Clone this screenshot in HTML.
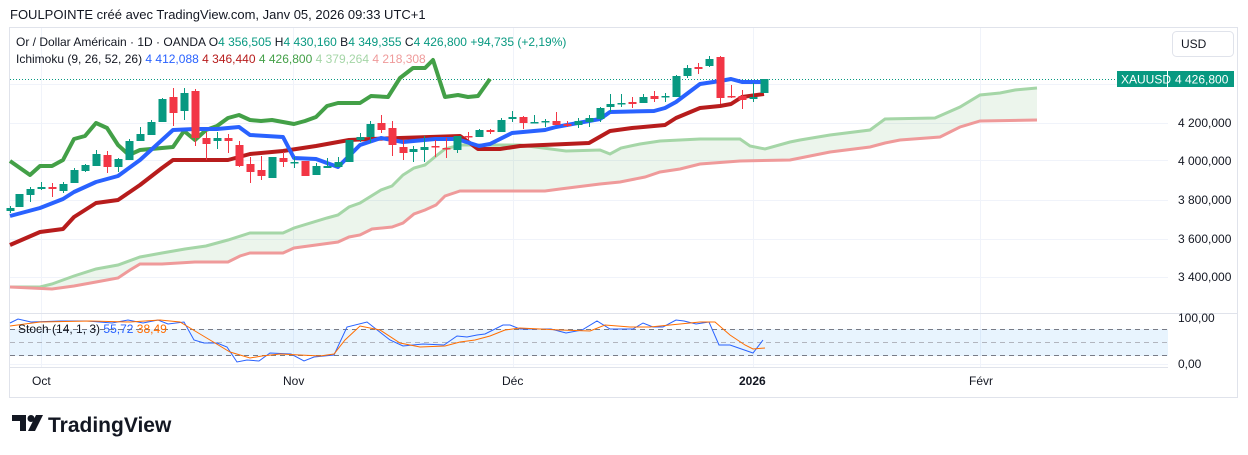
<!DOCTYPE html><html><head><meta charset="utf-8"><style>
body{margin:0;width:1248px;height:455px;background:#fff;overflow:hidden;font-family:"Liberation Sans",sans-serif;}
</style></head><body>
<svg id="s" width="1248" height="455" xmlns="http://www.w3.org/2000/svg" style="position:absolute;left:0;top:0">
<text x="10" y="19" font-size="13" fill="#131722">FOULPOINTE créé avec TradingView.com, Janv 05, 2026 09:33 UTC+1</text>
<rect x="9.5" y="27.5" width="1228" height="370" fill="none" stroke="#e0e3eb"/>
<g id="grid" stroke="#f0f3fa" stroke-width="1"></g>
<g id="g"></g>
<text x="16" y="46" font-size="12" fill="#131722">Or / Dollar Américain · 1D · OANDA <tspan>O</tspan><tspan fill="#089981">4 356,505</tspan> H<tspan fill="#089981">4 430,160</tspan> B<tspan fill="#089981">4 349,355</tspan> C<tspan fill="#089981">4 426,800</tspan> <tspan fill="#089981">+94,735 (+2,19%)</tspan></text>
<text x="16" y="63" font-size="12" fill="#131722">Ichimoku (9, 26, 52, 26) <tspan fill="#2962ff">4 412,088</tspan> <tspan fill="#b71c1c">4 346,440</tspan> <tspan fill="#43a047">4 426,800</tspan> <tspan fill="#a5d6a7">4 379,264</tspan> <tspan fill="#ef9a9a">4 218,308</tspan></text>
<rect x="1172.5" y="31.5" width="61" height="25" rx="4" fill="#fff" stroke="#e0e3eb"/>
<text x="1181" y="48" font-size="12" fill="#131722">USD</text>
<line x1="1237.5" y1="27" x2="1237.5" y2="397" stroke="#e0e3eb"/>
<line x1="10" y1="313.5" x2="1237" y2="313.5" stroke="#e0e3eb"/>
<line x1="10" y1="367.5" x2="1168" y2="367.5" stroke="#e0e3eb"/>
<g font-size="12" fill="#131722">
<text x="1178" y="127">4 200,000</text><text x="1178" y="165">4 000,000</text><text x="1178" y="204">3 800,000</text><text x="1178" y="243">3 600,000</text><text x="1178" y="281">3 400,000</text>
<text x="1178" y="322">100,00</text><text x="1178" y="368">0,00</text>
<text x="32" y="385">Oct</text><text x="283" y="385">Nov</text><text x="502" y="385">Déc</text><text x="739" y="385" font-weight="bold">2026</text><text x="969" y="385">Févr</text>
</g>
<rect x="1117" y="71" width="50" height="16" fill="#089981"/><rect x="1168" y="71" width="66" height="16" fill="#089981"/>
<text x="1121" y="83.5" font-size="12" fill="#fff">XAUUSD</text><text x="1175" y="83.5" font-size="12" fill="#fff">4 426,800</text>
<text x="18" y="333" font-size="12" fill="#131722">Stoch (14, 1, 3) <tspan fill="#2962ff">55,72</tspan> <tspan fill="#ff6d00">38,49</tspan></text>
<g transform="translate(12,415)"><path d="M0 0h14v16h-6V6H0z" fill="#131722"/><circle cx="19" cy="3.5" r="3.5" fill="#131722"/><path d="M24 0h7l-8 16h-7z" fill="#131722"/></g>
<text x="48" y="432" font-size="21" font-weight="bold" fill="#131722">TradingView</text>
</svg>
<script>
const NS="http://www.w3.org/2000/svg",g=document.getElementById('g'),gr=document.getElementById('grid');
function el(t,a,p){const e=document.createElementNS(NS,t);for(const k in a)e.setAttribute(k,a[k]);(p||g).appendChild(e);return e;}
[84,123,160,200,239,277].forEach(y=>el('line',{x1:10,x2:1168,y1:y+.5,y2:y+.5},gr));
[41,293,513,753,980].forEach(x=>el('line',{x1:x+.5,x2:x+.5,y1:28,y2:367},gr));
el('line',{x1:10,x2:1168,y1:364.5,y2:364.5},gr);
const P=a=>a.map(p=>p.join(',')).join(' ');
const A=[[10,287],[40,287],[52,284],[74,276],[96,269],[118,265],[140,257],[162,253],[185,249],[206,246],[228,240],[250,233],[283,233],[294,228],[327,218],[338,215],[349,207],[360,203],[381,190],[392,186],[403,175],[414,168],[425,165],[436,156],[445,149],[460,145],[520,145],[566,151],[600,150],[610,154],[621,148],[640,144],[660,141],[700,139],[740,139],[750,146],[765,149],[790,142],[800,140],[830,135],[870,130],[885,119],[935,118],[960,107],[980,95],[1000,93],[1015,90],[1037,88]];
const B=[[10,287],[52,289],[74,286],[96,282],[118,278],[130,270],[140,264],[162,264],[195,262],[228,262],[240,256],[250,253],[283,253],[294,248],[316,245],[338,242],[349,237],[360,235],[372,229],[392,227],[403,223],[414,214],[425,210],[436,205],[445,196],[460,191],[545,191],[560,189],[600,184],[620,182],[645,177],[660,172],[680,169],[700,164],[740,161],[790,160],[800,158],[830,152],[870,147],[885,143],[900,140],[940,137],[960,127],[980,121],[1037,120]];
el('polygon',{points:P(A.concat(B.slice().reverse())),fill:'rgba(67,160,71,0.1)'});
el('polyline',{points:P(A),fill:'none',stroke:'#a5d6a7','stroke-width':3});
el('polyline',{points:P(B),fill:'none',stroke:'#ef9a9a','stroke-width':3});
el('line',{x1:10,x2:1117,y1:79.5,y2:79.5,stroke:'#089981','stroke-dasharray':'1 2'});
const T=[[10,216],[40,208],[63,199],[74,192],[96,182],[118,176],[140,160],[162,140],[173,130],[195,129],[217,129],[239,127],[250,135],[283,137],[294,158],[316,159],[338,167],[360,145],[381,138],[403,142],[435,139],[457,139],[479,146],[490,144],[512,133],[545,130],[556,127],[600,119],[610,112],[654,111],[665,108],[676,102],[700,84],[720,81],[731,79],[742,82],[764,82]];
const K=[[10,245],[40,232],[63,229],[74,217],[96,203],[118,200],[140,185],[162,168],[173,160],[195,160],[228,160],[250,154],[283,151],[316,146],[349,140],[370,139],[460,136],[478,149],[500,149],[520,146],[589,143],[610,131],[632,128],[665,125],[676,118],[700,108],[720,106],[731,104],[742,97],[764,94]];
const C=[[10,161],[30,175],[40,166],[52,166],[63,160],[74,139],[85,136],[96,123],[107,128],[118,145],[129,155],[140,150],[162,148],[173,147],[184,131],[195,140],[206,130],[217,126],[228,118],[239,115],[250,120],[261,121],[272,120],[294,124],[305,121],[316,117],[327,106],[338,103],[360,103],[371,96],[388,97],[400,78],[413,68],[425,68],[433,60],[445,97],[458,95],[468,97],[478,96],[490,79]];
el('polyline',{points:P(C),fill:'none',stroke:'#43a047','stroke-width':4,'stroke-linejoin':'round'});
el('polyline',{points:P(K),fill:'none',stroke:'#b71c1c','stroke-width':4,'stroke-linejoin':'round'});
el('polyline',{points:P(T),fill:'none',stroke:'#2962ff','stroke-width':4,'stroke-linejoin':'round'});
const cd=[[10,208,211,206,213,1],[19,194,207,194,207,1],[30,189,195,187,202,1],[41,187,189,182,190,1],[52,187,189,183,197,0],[63,184,191,182,193,1],[74,170,183,168,183,1],[85,165,171,164,172,1],[96,154,166,150,166,1],[107,155,167,151,173,0],[118,159,167,158,172,1],[129,141,160,139,160,1],[140,134,141,127,141,1],[151,122,135,120,135,1],[162,99,122,98,122,1],[173,97,113,88,126,0],[184,93,111,88,120,1],[195,91,138,89,146,0],[206,138,144,132,160,0],[217,138,141,132,149,1],[228,138,141,134,153,0],[239,145,166,141,167,0],[250,164,172,157,183,0],[261,170,176,156,180,0],[272,157,178,157,178,1],[283,158,162,152,167,0],[294,162,163,157,168,1],[305,161,176,161,176,0],[316,166,175,163,175,1],[327,166,168,158,168,1],[338,162,167,157,167,1],[349,140,162,140,162,1],[360,137,140,133,142,1],[370,124,137,121,143,1],[381,123,130,115,133,0],[392,128,145,121,156,0],[403,147,153,140,160,0],[413,149,152,146,162,1],[424,147,150,136,162,1],[435,146,147,140,157,0],[446,148,149,138,158,0],[457,136,150,136,153,1],[468,136,137,132,140,0],[479,130,137,129,137,1],[490,130,132,129,134,0],[501,120,132,118,132,1],[512,117,119,111,122,1],[523,117,123,116,129,0],[534,122,123,115,123,1],[545,121,122,119,127,1],[556,121,125,112,125,0],[567,124,126,121,127,0],[578,121,125,118,128,1],[589,118,122,115,127,1],[600,108,119,107,122,1],[610,104,107,94,112,1],[621,103,104,94,107,1],[632,102,104,97,108,0],[643,97,103,94,103,1],[654,96,99,91,102,0],[665,96,97,93,102,1],[676,76,97,75,97,1],[687,68,76,65,78,1],[698,67,69,63,74,0],[709,59,66,56,67,1],[720,57,98,56,104,0],[731,96,97,85,98,0],[742,96,100,90,109,0],[753,97,99,83,102,1],[764,79,93,79,93,1]];
cd.forEach(c=>{const col=c[5]?'#089981':'#f23645';el('line',{x1:c[0]+.5,x2:c[0]+.5,y1:c[3],y2:c[4],stroke:col});el('rect',{x:c[0]-3.5,y:c[1],width:8,height:Math.max(1.5,c[2]-c[1]),fill:col});});
el('rect',{x:10,y:329,width:1158,height:27,fill:'rgba(33,150,243,0.1)'});
[329.5,342.5,355.5].forEach((y,i)=>el('line',{x1:10,x2:1168,y1:y,y2:y,stroke:i==1?'#b2b5be':'#787b86','stroke-dasharray':'5 4'}));
const SB=[[10,323],[18,319],[31,322],[61,321],[87,321],[112,323],[128,320],[143,323],[158,320],[168,324],[184,322],[194,340],[204,343],[217,343],[227,347],[237,362],[247,360],[259,361],[270,353],[291,354],[304,361],[314,357],[334,355],[347,327],[367,322],[390,340],[403,346],[423,344],[444,345],[457,336],[467,337],[477,335],[485,334],[503,325],[510,325],[520,329],[551,329],[566,333],[582,330],[597,321],[610,329],[633,329],[643,323],[653,327],[663,327],[676,320],[684,321],[696,324],[709,322],[719,345],[730,345],[753,353],[763,340]];
const SO=[[10,326],[40,322],[90,321],[130,322],[160,320],[180,322],[200,334],[215,343],[230,352],[250,358],[262,356],[280,354],[300,355],[320,356],[334,354],[345,340],[360,326],[380,330],[400,343],[420,347],[445,346],[460,342],[475,340],[490,336],[505,330],[520,328],[560,330],[590,331],[605,325],[630,327],[650,327],[670,325],[700,322],[715,322],[730,335],[745,345],[753,349],[765,348]];
el('polyline',{points:P(SB),fill:'none',stroke:'#2962ff','stroke-width':1});
el('polyline',{points:P(SO),fill:'none',stroke:'#ff6d00','stroke-width':1});
</script>
</body></html>
